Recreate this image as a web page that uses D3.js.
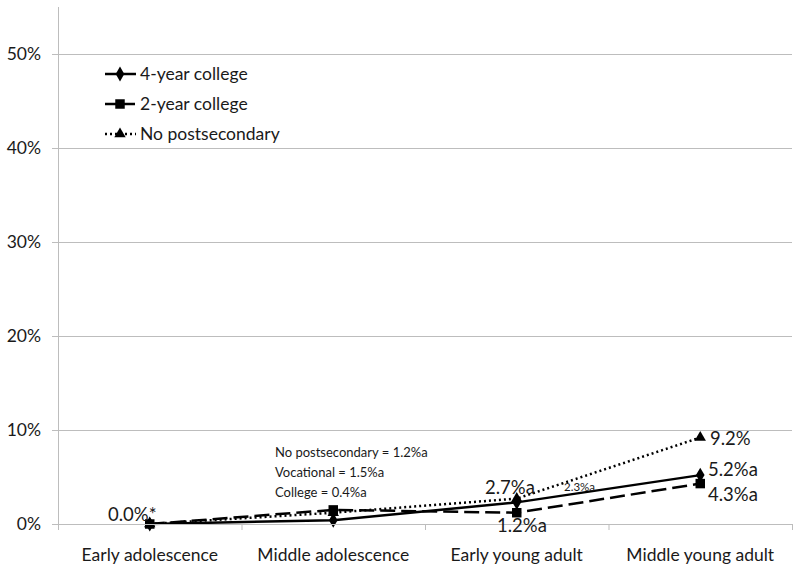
<!DOCTYPE html>
<html><head><meta charset="utf-8">
<script src="https://cdn.jsdelivr.net/npm/d3@7"></script>
<style>body{margin:0;background:#fff}svg{display:block}text{font-family:Lato,"Open Sans",sans-serif;fill:#1a1a1a}</style>
</head><body><svg id="c" width="800" height="571"></svg>
<script>
const categories = ["Early adolescence","Middle adolescence","Early young adult","Middle young adult"];
const fourYear = [0.0, 0.4, 2.3, 5.2];
const twoYear = [0.0, 1.5, 1.2, 4.3];
const noPost = [0.0, 1.2, 2.7, 9.2];
const yTicks = [0,10,20,30,40,50];
const seriesNames = ["4-year college","2-year college","No postsecondary"];

const svg = d3.select("#c");
const x = d3.scaleBand().domain(categories).range([58,792]);
const y = d3.scaleLinear().domain([0,55]).range([524,7]);
const cx = d => x(d) + x.bandwidth()/2;

svg.append("g").selectAll("line").data(yTicks.filter(t=>t>0)).join("line")
  .attr("x1",58).attr("x2",792).attr("y1",d=>y(d)+0.5).attr("y2",d=>y(d)+0.5)
  .attr("stroke","#bdbdbd").attr("stroke-width",1);
const ya = svg.append("g").attr("transform","translate(58,0)").call(d3.axisLeft(y).tickValues(yTicks).tickFormat(d=>d+"%").tickSize(6).tickPadding(11));
ya.select(".domain").attr("stroke","#bdbdbd").attr("d","M0.5,7V524");
ya.selectAll(".tick line").attr("stroke","#bdbdbd");
ya.selectAll("text").attr("font-size",17.5).attr("font-family","Lato").attr("fill","#1a1a1a");

const series = [
  {name:seriesNames[0], vals:fourYear, dash:null, sym:d3.symbolDiamond, size:64},
  {name:seriesNames[1], vals:twoYear, dash:"15,6", sym:d3.symbolSquare, size:90},
  {name:seriesNames[2], vals:noPost, dash:"2,3", sym:d3.symbolTriangle, size:56}
];
const line = d3.line().x((d,i)=>cx(categories[i])).y(d=>y(d));
[2,1,0].forEach(k=>{
  const s=series[k];
  svg.append("path").attr("d",line(s.vals)).attr("fill","none").attr("stroke","#000")
    .attr("stroke-width",2.5).attr("stroke-dasharray",s.dash);
});
[2,0,1].forEach(k=>{
  const s=series[k];
  svg.append("g").selectAll("path").data(s.vals).join("path")
    .attr("transform",(d,i)=>`translate(${cx(categories[i])},${y(d)})`)
    .attr("d",d3.symbol().type(s.sym).size(s.size)).attr("fill","#000");
});

svg.append("line").attr("x1",58).attr("x2",792).attr("y1",524.5).attr("y2",524.5).attr("stroke","#bdbdbd");
const xa = svg.append("g").attr("transform","translate(0,524)");
xa.selectAll("line").data(d3.range(categories.length+1)).join("line")
  .attr("x1",i=>58.5+i*x.bandwidth()).attr("x2",i=>58.5+i*x.bandwidth()).attr("y1",0).attr("y2",6).attr("stroke","#bdbdbd");
xa.selectAll("text").data(categories).join("text").attr("x",d=>cx(d)).attr("y",37)
  .attr("text-anchor","middle").attr("font-size",17.5).text(d=>d);

const lg = svg.append("g");
series.forEach((s,i)=>{
  const ly = 74 + i*30;
  lg.append("line").attr("x1",105).attr("x2",136).attr("y1",ly).attr("y2",ly).attr("stroke","#000")
    .attr("stroke-width",2.5).attr("stroke-dasharray",s.dash? (i===1?"13,4":"2,3") : null);
  lg.append("path").attr("transform",`translate(120,${ly})`).attr("d",d3.symbol().type(s.sym).size(s.size)).attr("fill","#000");
  lg.append("text").attr("x",140).attr("y",ly+6).attr("font-size",17.5).text(s.name);
});

const ann = svg.append("g");
const big = (t,xx,yy)=>ann.append("text").attr("x",xx).attr("y",yy).attr("font-size",18.5).text(t);
big(noPost[0].toFixed(1)+"%*",108,521);
big(noPost[2].toFixed(1)+"%a",485,494);
ann.append("text").attr("x",564).attr("y",491).attr("font-size",11.5).text(fourYear[2].toFixed(1)+"%a");
big(twoYear[2].toFixed(1)+"%a",497,532);
big(noPost[3].toFixed(1)+"%",710,445);
big(fourYear[3].toFixed(1)+"%a",708,476);
big(twoYear[3].toFixed(1)+"%a",708,501);
const notes = ["No postsecondary = "+noPost[1].toFixed(1)+"%a","Vocational = "+twoYear[1].toFixed(1)+"%a","College = "+fourYear[1].toFixed(1)+"%a"];
notes.forEach((t,i)=>ann.append("text").attr("x",275).attr("y",457+i*20).attr("font-size",13).text(t));
</script></body></html>
